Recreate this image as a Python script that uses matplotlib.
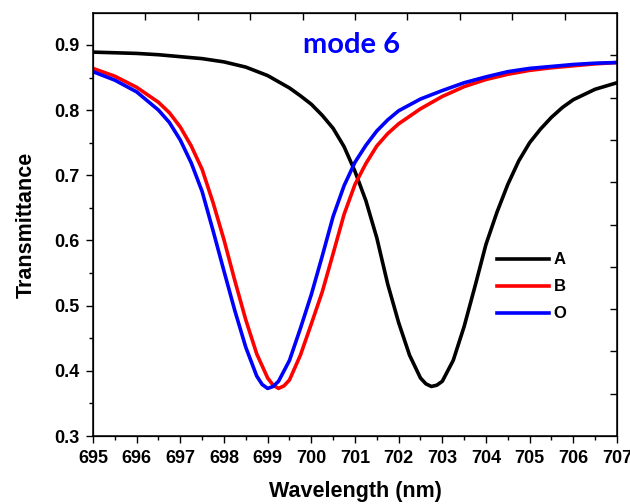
import numpy as np
import matplotlib.pyplot as plt

plt.rcParams['font.family'] = ['Liberation Sans', 'DejaVu Sans']
plt.rcParams['font.weight'] = 'bold'

# curve A (black)
xa = [695.0, 695.5, 696.0, 696.5, 697.0, 697.5, 698.0, 698.5, 699.0, 699.5,
      699.75, 700.0, 700.25, 700.5, 700.75, 701.0, 701.25, 701.5, 701.75, 702.0,
      702.25, 702.5, 702.625, 702.75, 702.875, 703.0, 703.25, 703.5, 703.75, 704.0,
      704.25, 704.5, 704.75, 705.0, 705.25, 705.5, 705.75, 706.0, 706.5, 707.0]
ya = [0.889, 0.888, 0.887, 0.885, 0.882, 0.879, 0.874, 0.866, 0.853, 0.834,
      0.822, 0.809, 0.792, 0.772, 0.744, 0.706, 0.661, 0.604, 0.533, 0.474,
      0.424, 0.389, 0.380, 0.376, 0.378, 0.384, 0.416, 0.468, 0.530, 0.594,
      0.643, 0.686, 0.722, 0.750, 0.771, 0.789, 0.804, 0.816, 0.832, 0.842]

# curve B (red)
xb = [695.0, 695.5, 696.0, 696.5, 696.75, 697.0, 697.25, 697.5, 697.75, 698.0,
      698.25, 698.5, 698.75, 699.0, 699.125, 699.25, 699.375, 699.5, 699.75, 700.0,
      700.25, 700.5, 700.75, 701.0, 701.25, 701.5, 701.75, 702.0, 702.5, 703.0,
      703.5, 704.0, 704.5, 705.0, 705.5, 706.0, 706.5, 707.0]
yb = [0.864, 0.852, 0.835, 0.812, 0.796, 0.774, 0.745, 0.709, 0.658, 0.601,
      0.538, 0.478, 0.426, 0.389, 0.378, 0.373, 0.377, 0.386, 0.424, 0.472,
      0.521, 0.580, 0.640, 0.686, 0.718, 0.745, 0.764, 0.779, 0.802, 0.821,
      0.836, 0.847, 0.855, 0.861, 0.865, 0.868, 0.871, 0.873]

# curve O (blue)
xo = [695.0, 695.5, 696.0, 696.5, 696.75, 697.0, 697.25, 697.5, 697.75, 698.0,
      698.25, 698.5, 698.75, 698.875, 699.0, 699.125, 699.25, 699.5, 699.75, 700.0,
      700.25, 700.5, 700.75, 701.0, 701.25, 701.5, 701.75, 702.0, 702.5, 703.0,
      703.5, 704.0, 704.5, 705.0, 705.5, 706.0, 706.5, 707.0]
yo = [0.859, 0.846, 0.828, 0.800, 0.781, 0.754, 0.719, 0.675, 0.615, 0.553,
      0.492, 0.436, 0.392, 0.379, 0.373, 0.376, 0.384, 0.416, 0.465, 0.517,
      0.576, 0.637, 0.684, 0.720, 0.746, 0.768, 0.785, 0.799, 0.817, 0.830,
      0.842, 0.851, 0.859, 0.864, 0.867, 0.870, 0.872, 0.873]

fig = plt.figure(figsize=(6.3, 5.04), dpi=100)
ax = fig.add_axes([0.1476, 0.1349, 0.8317, 0.8393])

ax.plot(xa, ya, color='black', lw=2.6, label='A', solid_joinstyle='round')
ax.plot(xb, yb, color='#ff0000', lw=2.6, label='B', solid_joinstyle='round')
ax.plot(xo, yo, color='#0000ff', lw=2.6, label='O', solid_joinstyle='round')

ax.set_xlim(695, 707)
ax.set_ylim(0.3, 0.949)
ax.set_xticks(np.arange(695, 708, 1))
ax.set_xticks(np.arange(695.5, 707, 1), minor=True)
ax.set_yticks([0.3, 0.4, 0.5, 0.6, 0.7, 0.8, 0.9])
ax.set_yticks(np.arange(0.35, 0.95, 0.1), minor=True)
ax.tick_params(which='major', length=4.8, width=1.0, labelsize=13, pad=5)
ax.tick_params(which='minor', length=3, width=1.0)
for s in ax.spines.values():
    s.set_linewidth(1.1)

ax.set_xlabel('Wavelength (nm)', fontsize=15.5, fontweight='bold')
ax.set_ylabel('Transmittance', fontsize=15.5, fontweight='bold')
ax.xaxis.set_label_coords(0.5, -0.107)
ax.yaxis.set_label_coords(-0.107, 0.5)

# top / right inward ticks without labels
axt = ax.twiny()
axt.set_xlim(0, 10)
axt.set_xticks(range(1, 10))
axt.tick_params(direction='in', length=4.8, width=1.0, labeltop=False)
axr = ax.twinx()
axr.set_ylim(0, 10)
axr.set_yticks(range(1, 10))
axr.tick_params(direction='in', length=4.8, width=1.0, labelright=False)

ax.text(699.81, 0.9, 'mode 6', color='#0000ff', fontsize=21,
        fontfamily='Lato', fontweight='bold', ha='left', va='center')

ax.legend(loc='upper left', bbox_to_anchor=(0.771, 0.434), frameon=False,
          borderaxespad=0, borderpad=0, handlelength=3.1, handletextpad=0.3,
          labelspacing=0.72, prop={'size': 12, 'weight': 'bold'})

fig.savefig('out.png', dpi=100)
